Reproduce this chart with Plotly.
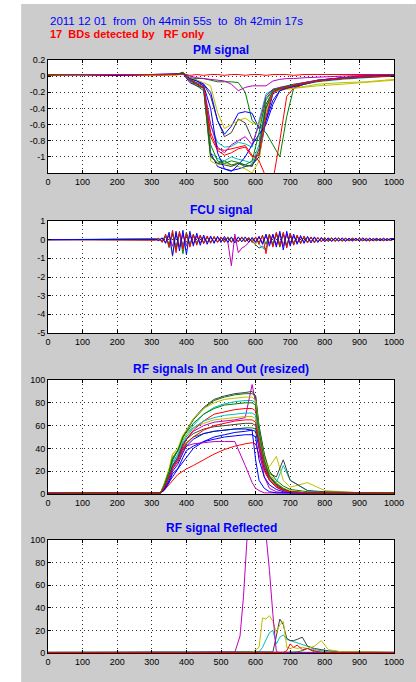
import plotly.graph_objects as go
from plotly.subplots import make_subplots

# ---------------- colours (MATLAB-like order) ----------------
BLUE, GREEN, RED, CYAN, MAGENTA, YELLOW, GREY = (
    '#0000ff', '#008000', '#ff0000', '#00bfbf', '#bf00bf', '#bfbf00', '#404040')
CYCLE = [BLUE, GREEN, RED, CYAN, MAGENTA, YELLOW, GREY]

# ---------------- text ----------------
header_line1 = "2011 12 01\u00a0\u00a0from\u00a0\u00a00h 44min 55s\u00a0\u00a0to\u00a0\u00a08h 42min 17s"
header_line2 = "17\u00a0\u00a0BDs detected by\u00a0\u00a0\u00a0RF only"
panel_titles = ["PM signal", "FCU signal", "RF signals In and Out (resized)", "RF signal Reflected"]

# ---------------- ticks ----------------
x_ticks = [0, 100, 200, 300, 400, 500, 600, 700, 800, 900, 1000]
x_tick_labels = ["0", "100", "200", "300", "400", "500", "600", "700", "800", "900", "1000"]
pm_ticks = [0.2, 0, -0.2, -0.4, -0.6, -0.8, -1]
pm_tick_labels = ["0.2", "0", "-0.2", "-0.4", "-0.6", "-0.8", "-1"]
fcu_ticks = [1, 0, -1, -2, -3, -4, -5]
fcu_tick_labels = ["1", "0", "-1", "-2", "-3", "-4", "-5"]
rf_ticks = [0, 20, 40, 60, 80, 100]
rf_tick_labels = ["0", "20", "40", "60", "80", "100"]

# ---------------- PM signal ----------------
pm_x = [0, 100, 200, 300, 370, 390, 410, 430, 450, 470, 490, 510, 530, 550, 570, 590,
        610, 630, 650, 670, 690, 710, 740, 780, 850, 920, 1000]
pm_01 = [0.02, 0.01, 0.02, 0.02, 0.02, 0.03, -0.08, -0.12, -0.15, -0.95, -1.12, -1.15, -1.17, -1.15, -1.12, -1.10, -1.0, -0.55, -0.22, -0.17, -0.15, -0.13, -0.10, -0.06, -0.03, 0.0, 0.01]
pm_02 = [0.01, 0.02, 0.01, 0.02, 0.02, 0.04, -0.02, -0.03, -0.03, -0.05, -0.07, -0.07, -0.07, -0.08, -0.20, -0.55, -0.62, -0.70, -0.85, -1.0, -0.50, -0.15, -0.10, -0.06, -0.02, 0.0, 0.01]
pm_03 = [0.02, 0.02, 0.02, 0.02, 0.02, 0.03, 0.01, 0.02, 0.01, 0.02, 0.02, 0.01, 0.02, 0.02, 0.01, 0.02, 0.02, 0.01, 0.02, 0.02, 0.02, 0.01, 0.02, 0.02, 0.02, 0.02, 0.02]
pm_04 = [0.02, 0.02, 0.01, 0.02, 0.02, 0.04, -0.05, -0.10, -0.15, -0.60, -0.82, -0.88, -0.87, -0.82, -0.84, -0.88, -0.55, -0.22, -0.17, -0.15, -0.13, -0.12, -0.09, -0.06, -0.03, -0.01, 0.0]
pm_05 = [0.02, 0.01, 0.02, 0.02, 0.02, 0.03, 0.0, -0.02, -0.03, -0.04, -0.05, -0.06, -0.10, -0.18, -0.14, -0.12, -0.12, -0.12, -0.06, -0.04, -0.03, -0.03, -0.02, -0.01, 0.0, 0.01, 0.01]
pm_06 = [0.02, 0.02, 0.02, 0.02, 0.01, 0.03, -0.05, -0.10, -0.15, -1.05, -1.10, -1.08, -1.10, -1.12, -1.15, -1.20, -1.05, -0.45, -0.20, -0.18, -0.16, -0.15, -0.13, -0.10, -0.08, -0.07, -0.04]
pm_07 = [0.02, 0.02, 0.01, 0.02, 0.02, 0.04, -0.03, -0.06, -0.10, -0.25, -0.55, -0.75, -0.70, -0.53, -0.58, -0.78, -0.80, -0.40, -0.18, -0.14, -0.12, -0.10, -0.08, -0.05, -0.02, 0.0, 0.01]
pm_08 = [0.02, 0.02, 0.02, 0.01, 0.02, 0.03, -0.02, -0.05, -0.10, -0.20, -0.55, -0.72, -0.62, -0.46, -0.44, -0.46, -0.65, -0.55, -0.30, -0.18, -0.14, -0.12, -0.09, -0.05, -0.02, 0.0, 0.01]
pm_09 = [0.01, 0.02, 0.02, 0.02, 0.02, 0.04, -0.06, -0.12, -0.18, -1.0, -1.08, -1.05, -1.10, -1.08, -1.12, -1.10, -0.95, -0.40, -0.20, -0.16, -0.14, -0.12, -0.09, -0.06, -0.03, -0.01, 0.01]
pm_10 = [0.02, 0.02, 0.02, 0.02, 0.02, 0.03, -0.05, -0.10, -0.15, -0.70, -0.90, -0.92, -0.90, -0.88, -0.86, -0.98, -1.05, -1.25, -1.30, -0.80, -0.25, -0.15, -0.10, -0.06, -0.03, -0.01, 0.0]
pm_11 = [0.02, 0.01, 0.02, 0.02, 0.02, 0.03, -0.05, -0.10, -0.15, -0.95, -1.02, -1.05, -1.00, -1.03, -1.05, -1.08, -0.85, -0.30, -0.18, -0.16, -0.14, -0.13, -0.10, -0.07, -0.04, -0.02, 0.0]
pm_12 = [0.02, 0.02, 0.01, 0.02, 0.02, 0.03, -0.04, -0.08, -0.12, -0.60, -0.88, -0.95, -0.85, -0.80, -0.75, -0.85, -0.60, -0.25, -0.16, -0.14, -0.13, -0.11, -0.08, -0.05, -0.02, 0.0, 0.01]
pm_13 = [0.02, 0.02, 0.02, 0.01, 0.02, 0.03, -0.02, -0.05, -0.08, -0.12, -0.45, -0.65, -0.60, -0.55, -0.52, -0.58, -0.60, -0.35, -0.20, -0.17, -0.16, -0.15, -0.14, -0.12, -0.10, -0.08, -0.05]
pm_14 = [0.02, 0.02, 0.02, 0.02, 0.02, 0.04, -0.05, -0.10, -0.15, -0.98, -1.08, -1.10, -1.12, -1.08, -1.10, -1.12, -0.90, -0.35, -0.19, -0.16, -0.14, -0.12, -0.09, -0.06, -0.03, -0.01, 0.01]
pm_15 = [0.02, 0.02, 0.01, 0.02, 0.02, 0.03, -0.03, -0.06, -0.12, -0.40, -0.95, -1.15, -1.18, -1.10, -1.0, -0.85, -0.72, -0.60, -0.35, -0.18, -0.15, -0.13, -0.10, -0.06, -0.03, -0.01, 0.01]
pm_16 = [0.02, 0.02, 0.02, 0.02, 0.02, 0.05, -0.04, -0.09, -0.14, -0.85, -1.05, -1.08, -1.05, -1.07, -1.10, -1.05, -0.70, -0.28, -0.17, -0.15, -0.13, -0.11, -0.09, -0.06, -0.03, -0.01, 0.0]
pm_17 = [0.02, 0.02, 0.02, 0.02, 0.02, 0.03, -0.05, -0.10, -0.14, -0.75, -0.92, -0.98, -0.95, -0.90, -0.88, -1.00, -0.98, -0.50, -0.20, -0.16, -0.14, -0.12, -0.09, -0.06, -0.03, -0.01, 0.0]
pm_series = [pm_01, pm_02, pm_03, pm_04, pm_05, pm_06, pm_07, pm_08, pm_09,
             pm_10, pm_11, pm_12, pm_13, pm_14, pm_15, pm_16, pm_17]

# ---------------- FCU signal (x = 0, then 300..1000 every 10) ----------------
fcu_x = [0] + list(range(300, 1001, 10))
fcu_blue = [0.00, 0.02, -0.05, 0.10, -0.20, 0.40, -0.85, 0.45, -0.60, 0.50,
            -0.80, 0.45, -0.35, 0.35, -0.30, 0.25, -0.25, 0.20, -0.20, 0.18,
            -0.15, 0.18, -0.15, 0.15, -0.18, 0.15, -0.12, 0.15, -0.15, 0.12,
            -0.15, 0.18, -0.25, 0.30, -0.35, 0.30, -0.40, 0.45, -0.55, 0.45,
            -0.35, 0.30, -0.25, 0.22, -0.20, 0.18, -0.18, 0.15, -0.15, 0.12,
            -0.12, 0.10, -0.10, 0.10, -0.08, 0.10, -0.08, 0.08, -0.07, 0.08,
            -0.08, 0.10, -0.07, 0.08, -0.06, 0.07, -0.06, 0.08, -0.05, 0.06,
            0.05]
fcu_red = [0.00, -0.03, 0.08, -0.15, 0.30, -0.40, 0.50, -0.70, 0.45, -0.50,
           0.35, -0.40, 0.30, -0.30, 0.25, -0.22, 0.20, -0.20, 0.18, -0.15,
           0.15, -0.15, 0.12, -0.15, 0.12, -0.12, 0.15, -0.12, 0.12, -0.15,
           0.15, -0.25, 0.25, -0.75, 0.30, -0.40, 0.40, -0.35, 0.40, -0.45,
           0.35, -0.30, 0.25, -0.22, 0.20, -0.18, 0.15, -0.18, 0.12, -0.12,
           0.10, -0.10, 0.08, -0.10, 0.08, -0.08, 0.08, -0.07, 0.07, -0.06,
           0.08, -0.06, 0.07, -0.08, 0.06, -0.05, 0.06, -0.06, 0.05, -0.05,
           0.04]
fcu_green = [0.00, 0.01, 0.04, -0.08, 0.20, -0.30, 0.35, -0.50, 0.40, -0.75,
             0.40, -0.30, 0.25, -0.22, 0.20, -0.18, 0.15, -0.15, 0.15, -0.12,
             0.12, -0.10, 0.15, -0.12, 0.10, -0.10, 0.12, -0.10, 0.10, -0.12,
             0.12, -0.15, 0.20, -0.25, 0.30, -0.30, 0.35, -0.40, 0.35, -0.35,
             0.30, -0.25, 0.20, -0.18, 0.15, -0.15, 0.12, -0.12, 0.10, -0.10,
             0.10, -0.08, 0.10, -0.07, 0.08, -0.08, 0.07, -0.06, 0.08, -0.05,
             0.06, -0.07, 0.06, -0.05, 0.06, -0.06, 0.05, -0.05, 0.06, -0.04,
             0.04]
fcu_cyan = [0.00, -0.02, 0.05, -0.10, 0.25, -0.45, 0.40, -0.55, 0.35, -0.45,
            0.30, -0.25, 0.28, -0.20, 0.18, -0.18, 0.15, -0.15, 0.12, -0.12,
            0.10, -0.12, 0.10, -0.10, 0.12, -0.10, 0.10, -0.12, 0.10, -0.10,
            0.10, -0.25, -0.45, -0.55, 0.25, -0.30, 0.35, -0.35, 0.30, -0.40,
            0.35, -0.25, 0.22, -0.18, 0.15, -0.15, 0.12, -0.10, 0.10, -0.10,
            0.08, -0.10, 0.08, -0.07, 0.10, -0.06, 0.07, -0.08, 0.06, -0.06,
            0.06, -0.05, 0.06, -0.06, 0.05, -0.05, 0.06, -0.05, 0.05, -0.04,
            0.04]
fcu_magenta = [0.00, 0.02, -0.04, 0.08, -0.15, 0.25, -0.35, 0.30, -0.40, 0.30,
               -0.35, 0.25, -0.22, 0.20, -0.18, 0.15, -0.15, 0.12, -0.12, 0.12,
               -0.10, 0.10, -0.15, -1.40, 0.30, -0.70, -0.45, -0.35, -0.15, 0.10,
               -0.10, 0.15, -0.18, 0.20, -0.20, 0.25, -0.30, 0.35, -0.35, 0.30,
               -0.25, 0.20, -0.18, 0.15, -0.12, 0.12, -0.10, 0.10, -0.10, 0.08,
               -0.08, 0.07, -0.06, 0.08, -0.06, 0.05, -0.06, 0.05, -0.05, 0.06,
               -0.05, 0.05, -0.06, 0.05, -0.04, 0.06, -0.05, 0.04, -0.04, 0.05,
               0.03]
fcu_grey = [0.00, -0.01, 0.03, -0.06, 0.15, -0.25, 0.30, -0.40, 0.35, -0.30,
            0.25, -0.22, 0.20, -0.18, 0.15, -0.15, 0.12, -0.12, 0.10, -0.10,
            0.10, -0.08, 0.10, -0.10, 0.08, -0.08, 0.10, -0.08, 0.06, -0.10,
            -0.30, -0.45, -0.35, -0.50, 0.20, -0.25, 0.30, -0.25, 0.30, -0.30,
            0.25, -0.20, 0.18, -0.15, 0.12, -0.12, 0.10, -0.10, 0.08, -0.08,
            0.07, -0.06, 0.08, -0.05, 0.06, -0.06, 0.05, -0.05, 0.06, -0.04,
            0.05, -0.05, 0.04, -0.06, 0.05, -0.04, 0.05, -0.04, 0.04, -0.03,
            0.03]
fcu_yellow = [0.00, 0.02, -0.03, 0.06, -0.12, 0.20, -0.90, 0.35, -0.30, 0.25,
              -0.20, 0.20, -0.18, 0.15, -0.15, 0.12, -0.12, 0.10, -0.10, 0.10,
              -0.08, 0.08, -0.10, 0.08, -0.06, 0.10, -0.08, 0.06, -0.08, 0.06,
              -0.25, 0.10, -0.15, 0.18, -0.20, 0.22, -0.25, 0.25, -0.22, 0.20,
              -0.18, 0.15, -0.12, 0.10, -0.10, 0.10, -0.08, 0.08, -0.06, 0.06,
              -0.06, 0.06, -0.05, 0.05, -0.06, 0.05, -0.04, 0.05, -0.04, 0.05,
              -0.04, 0.05, -0.04, 0.04, -0.03, 0.05, -0.04, 0.03, -0.04, 0.04,
              0.03]
fcu_series = [(fcu_grey, GREY), (fcu_yellow, YELLOW), (fcu_cyan, CYAN), (fcu_green, GREEN),
              (fcu_magenta, MAGENTA), (fcu_red, RED), (fcu_blue, BLUE)]

# ---------------- RF signals In and Out ----------------
rf_x = [0, 100, 200, 300, 325, 335, 350, 360, 375, 390, 400, 420, 450, 480, 510, 540, 570,
        590, 600, 610, 625, 640, 660, 680, 700, 750, 800, 900, 1000]
rf_01 = [1, 0.5, 1, 0.5, 1, 4, 10, 15, 22, 28, 32, 40, 46, 50, 52, 54, 55, 56, 55, 40, 22, 12, 6, 3, 2, 1, 1, 1, 0.5]
rf_02 = [0.5, 1, 0.5, 1, 1, 7, 20, 30, 38, 50, 55, 65, 75, 82, 85, 87, 88, 88, 86, 60, 35, 20, 12, 7, 4, 2, 1, 1, 1]
rf_03 = [1, 1, 0.5, 0.5, 1, 3, 8, 12, 17, 20, 22, 25, 30, 35, 39, 42, 44, 45, 44, 35, 20, 12, 6, 3, 2, 1, 1, 0.5, 0.5]
rf_04 = [0.5, 1, 1, 0.5, 1, 6, 18, 28, 35, 47, 52, 60, 70, 76, 79, 81, 82, 82, 80, 55, 30, 15, 10, 25, 12, 3, 1, 1, 0.5]
rf_05 = [1, 0.5, 1, 1, 1, 5, 15, 24, 30, 42, 48, 55, 60, 63, 64, 65, 67, 96, 80, 40, 15, 5, 2, 1, 1, 1, 0.5, 1, 0.5]
rf_06 = [1, 1, 0.5, 1, 1, 8, 22, 35, 38, 48, 52, 58, 62, 65, 66, 67, 68, 68, 66, 45, 28, 24, 33, 12, 6, 10, 3, 1, 0.5]
rf_07 = [0.5, 1, 1, 1, 1, 8, 20, 30, 38, 50, 55, 66, 76, 83, 86, 88, 89, 90, 86, 58, 35, 18, 15, 30, 12, 3, 2, 1, 0.5]
rf_08 = [1, 1, 1, 0.5, 1, 3, 10, 18, 22, 32, 38, 42, 46, 48, 50, 51, 52, 52, 50, 30, 15, 8, 4, 2, 1, 1, 0.5, 1, 0.5]
rf_09 = [1, 0.5, 1, 1, 0.5, 5, 15, 25, 30, 40, 45, 50, 53, 55, 56, 57, 58, 58, 57, 45, 25, 15, 8, 4, 2, 1, 1, 1, 1]
rf_10 = [0.5, 1, 1, 1, 1, 6, 15, 25, 32, 42, 48, 56, 64, 70, 72, 74, 75, 75, 73, 50, 28, 15, 8, 4, 2, 1, 1, 1, 0.5]
rf_11 = [1, 1, 0.5, 1, 1, 6, 17, 27, 34, 45, 50, 58, 64, 67, 69, 70, 71, 71, 69, 48, 26, 14, 8, 4, 2, 1, 1, 0.5, 0.5]
rf_12 = [1, 1, 1, 0.5, 1, 5, 14, 22, 30, 40, 42, 44, 45, 46, 46, 46, 25, 10, 5, 3, 1, 1, 1, 1, 0.5, 0.5, 0.5, 0.5, 0.5]
rf_13 = [1, 1, 1, 1, 1, 8, 22, 35, 40, 52, 56, 66, 75, 80, 83, 84, 85, 85, 82, 55, 32, 18, 10, 5, 3, 1, 1, 1, 0.5]
rf_14 = [1, 1, 0.5, 1, 1, 5, 16, 25, 32, 44, 48, 53, 57, 59, 60, 61, 62, 62, 60, 45, 25, 15, 8, 4, 2, 1, 1, 1, 0.5]
rf_15 = [0.5, 1, 1, 1, 1, 4, 12, 20, 26, 36, 42, 48, 53, 55, 56, 57, 57, 56, 30, 12, 5, 2, 1, 1, 1, 0.5, 1, 0.5, 0.5]
rf_16 = [1, 1, 1, 0.5, 1, 7, 20, 32, 38, 50, 54, 62, 70, 75, 78, 79, 80, 80, 78, 55, 30, 16, 9, 5, 2, 1, 1, 1, 1]
rf_17 = [1, 0.5, 1, 1, 1, 5, 14, 22, 28, 38, 44, 50, 56, 60, 62, 64, 65, 65, 63, 45, 24, 13, 7, 4, 2, 1, 1, 0.5, 0.5]
rf_series = [rf_01, rf_02, rf_03, rf_04, rf_05, rf_06, rf_07, rf_08, rf_09,
             rf_10, rf_11, rf_12, rf_13, rf_14, rf_15, rf_16, rf_17]

# ---------------- RF signal Reflected ----------------
refl_x = [0, 100, 200, 300, 400, 500, 540, 555, 565, 575, 590, 610, 620, 630, 640, 650, 660,
          670, 680, 690, 700, 710, 720, 735, 750, 770, 790, 810, 850, 900, 1000]
refl_blue = [0.5, 0.8, 0.5, 0.6, 0.5, 0.7, 0.5, 0.6, 0.5, 0.5, 0.6, 0.5, 0.7, 0.5, 0.6, 0.5, 0.5, 0.6, 0.5, 0.7, 0.5, 0.6, 0.5, 0.5, 0.6, 0.5, 0.7, 0.5, 0.6, 0.5, 0.5]
refl_green = [0.6, 0.5, 0.7, 0.5, 0.6, 0.8, 0.6, 0.5, 0.6, 0.5, 0.5, 0.6, 0.5, 0.6, 0.5, 0.7, 0.5, 0.6, 0.5, 0.6, 0.8, 0.6, 1.0, 2.0, 4.0, 1.0, 0.6, 0.5, 0.7, 1.0, 0.5]
refl_magenta = [0.5, 0.4, 0.5, 0.5, 0.5, 0.8, 0.6, 15, 50, 100, 150, 150, 150, 105, 73, 34, 1, 0.6, 0.5, 0.5, 0.5, 0.5, 0.5, 0.5, 0.5, 0.5, 0.5, 0.5, 0.5, 0.5, 0.5]
refl_yellow = [0.5, 0.5, 0.6, 0.5, 0.5, 0.6, 0.5, 0.5, 0.6, 0.5, 0.5, 5, 31, 30, 33, 28, 18, 25, 28, 5, 4, 5, 4, 5, 4, 6, 11, 3, 1, 1, 0.5]
refl_grey = [0.5, 0.6, 0.5, 0.5, 0.6, 0.5, 0.5, 0.6, 0.5, 0.5, 0.6, 0.5, 0.5, 0.6, 0.5, 1, 15, 30, 25, 13, 11, 11, 12, 14, 6, 4, 3, 2, 1, 0.6, 0.5]
refl_cyan = [0.5, 0.5, 0.6, 0.5, 0.5, 0.6, 0.5, 0.5, 0.5, 0.6, 0.5, 1, 5, 12, 18, 20, 8, 14, 16, 12, 11, 10, 9, 8, 6, 3, 2, 1, 0.6, 0.5, 0.5]
refl_red = [0.4, 0.6, 0.4, 0.5, 0.4, 0.5, 0.4, 0.5, 0.4, 0.5, 0.4, 0.5, 0.4, 0.5, 0.4, 0.5, 0.4, 0.5, 0.5, 2, 8, 5, 7, 3, 4, 2, 0.5, 0.4, 0.5, 0.4, 0.5]
refl_series = [(refl_blue, BLUE), (refl_green, GREEN), (refl_cyan, CYAN), (refl_grey, GREY),
               (refl_yellow, YELLOW), (refl_magenta, MAGENTA), (refl_red, RED)]

for s in pm_series:
    assert len(s) == len(pm_x)
for s, _ in fcu_series:
    assert len(s) + 1 == len(fcu_x), len(s)
for s in rf_series:
    assert len(s) == len(rf_x)
for s, _ in refl_series:
    assert len(s) == len(refl_x)

# ---------------- figure ----------------
fig = make_subplots(rows=4, cols=1)
line_w = 1

for i, s in enumerate(pm_series):
    fig.add_trace(go.Scatter(x=pm_x, y=s, mode='lines',
                             line=dict(color=CYCLE[i % 7], width=line_w)), row=1, col=1)
for s, c in fcu_series:
    fig.add_trace(go.Scatter(x=fcu_x, y=[0.0] + s, mode='lines',
                             line=dict(color=c, width=line_w)), row=2, col=1)
for i, s in enumerate(rf_series):
    fig.add_trace(go.Scatter(x=rf_x, y=s, mode='lines',
                             line=dict(color=CYCLE[i % 7], width=line_w)), row=3, col=1)
for s, c in refl_series:
    fig.add_trace(go.Scatter(x=refl_x, y=s, mode='lines',
                             line=dict(color=c, width=line_w)), row=4, col=1)

W, H = 416, 682
ML, MR, MT, MB = 48, 20, 60, 29
PW, PH = W - ML - MR, H - MT - MB


def py(p):  # pixel row -> paper y
    return (H - MB - p) / PH


def px(p):  # pixel column -> paper x
    return (p - ML) / PW


panel_px = [(60, 173), (221, 333), (380, 494), (540, 653)]
title_px = [50, 209.5, 369, 528]
yranges = [[-1.2, 0.2], [-5, 1], [0, 100], [0, 100]]
yticks = [(pm_ticks, pm_tick_labels), (fcu_ticks, fcu_tick_labels),
          (rf_ticks, rf_tick_labels), (rf_ticks, rf_tick_labels)]

tick_font = dict(family='Liberation Sans, Arial, sans-serif', size=9, color='black')
axis_common = dict(showline=True, linecolor='black', linewidth=1, mirror='ticks',
                   ticks='inside', ticklen=3, tickcolor='black', showgrid=True,
                   gridcolor='#333333', gridwidth=1, griddash='1px,3px',
                   zeroline=False, tickfont=tick_font, fixedrange=True)

for k in range(4):
    top, bot = panel_px[k]
    sfx = '' if k == 0 else str(k + 1)
    fig.layout['yaxis' + sfx].update(domain=[py(bot), py(top)], range=yranges[k],
                                     tickvals=yticks[k][0], ticktext=yticks[k][1],
                                     **axis_common)
    fig.layout['xaxis' + sfx].update(range=[0, 1000], tickvals=x_ticks, ticktext=x_tick_labels,
                                     **axis_common)

annotations = []
for k in range(4):
    annotations.append(dict(text='<b>' + panel_titles[k] + '</b>', xref='paper', yref='paper',
                            x=0.5, y=py(title_px[k]), xanchor='center', yanchor='middle',
                            showarrow=False,
                            font=dict(family='Liberation Sans, Arial, sans-serif', size=12,
                                      color='#0000ff')))
annotations.append(dict(text=header_line1, xref='paper', yref='paper', x=0, y=py(21.5),
                        xanchor='left', yanchor='middle', showarrow=False,
                        font=dict(family='Liberation Sans, Arial, sans-serif', size=11.5,
                                  color='#0000ff')))
annotations.append(dict(text='<b>' + header_line2 + '</b>', xref='paper', yref='paper', x=0,
                        y=py(34.5), xanchor='left', yanchor='middle', showarrow=False,
                        font=dict(family='Liberation Sans, Arial, sans-serif', size=11,
                                  color='#ff0000')))

shapes = [
    dict(type='rect', xref='paper', yref='paper', x0=px(-2), x1=px(21), y0=py(H + 2), y1=py(-2),
         fillcolor='white', line=dict(width=0), layer='below'),
    dict(type='rect', xref='paper', yref='paper', x0=px(-2), x1=px(W + 2), y0=py(4), y1=py(-2),
         fillcolor='white', line=dict(width=0), layer='below'),
]

fig.update_layout(width=W, height=H, margin=dict(l=ML, r=MR, t=MT, b=MB),
                  paper_bgcolor='#cccccc', plot_bgcolor='white', showlegend=False,
                  hovermode=False, annotations=annotations, shapes=shapes)

fig.write_html("out.html", config={'displayModeBar': False},
               post_script="document.body.style.margin='0';document.body.style.overflow='hidden';")
